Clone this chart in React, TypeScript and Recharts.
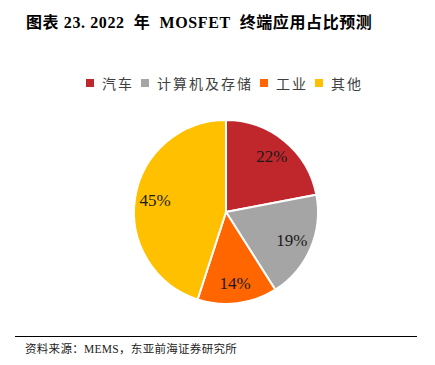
import React from 'react';
import { PieChart, Pie, Cell } from 'recharts';

const categories = ['汽车', '计算机及存储', '工业', '其他'];
const shares = [22, 19, 14, 45];
const colors = ['#C0272D', '#A5A5A5', '#FF6600', '#FFC000'];

const chartData = categories.map((name, i) => ({ name, value: shares[i] }));

const RADIAN = Math.PI / 180;

const renderLabel = ({ cx, cy, midAngle, outerRadius, value }: any) => {
  const r = outerRadius * 0.78;
  const x = cx + r * Math.cos(-midAngle * RADIAN);
  const y = cy + r * Math.sin(-midAngle * RADIAN);
  return (
    <text
      x={x}
      y={y}
      fill="#1a1a1a"
      fontSize={17}
      fontFamily="'Liberation Serif', serif"
      textAnchor="middle"
      dominantBaseline="central"
    >
      {`${value}%`}
    </text>
  );
};

export default function App() {
  return (
    <div style={{ position: 'absolute', left: 0, top: 0, width: 435, height: 365, background: '#fff', fontFamily: "'Liberation Serif', 'Noto Sans CJK SC', serif" }}>
      <div style={{ position: 'absolute', left: 26, top: 9, fontSize: 16, fontWeight: 'bold', color: '#000', whiteSpace: 'pre', letterSpacing: 0.6 }}>
        {'图表 23. 2022  年  MOSFET  终端应用占比预测'}
      </div>
      {/* legend */}
      <div style={{ position: 'absolute', left: 86, top: 73, display: 'flex', alignItems: 'center', fontSize: 14, color: '#404040', letterSpacing: 2, fontFamily: "'Noto Sans CJK SC', sans-serif", whiteSpace: 'nowrap' }}>
        {chartData.map((d, i) => (
          <span key={d.name} style={{ display: 'flex', alignItems: 'center', marginRight: 7 }}>
            <span style={{ width: 8, height: 8, background: colors[i], display: 'inline-block', marginRight: 8 }} />
            {d.name}
          </span>
        ))}
      </div>
      <PieChart width={435} height={365} margin={{ top: 0, right: 0, bottom: 0, left: 0 }} style={{ position: 'absolute', left: 0, top: 0 }}>
        <Pie
          data={chartData}
          dataKey="value"
          cx={226}
          cy={212}
          outerRadius={92}
          startAngle={90}
          endAngle={-270}
          stroke="#fff"
          strokeWidth={2}
          label={renderLabel}
          labelLine={false}
          isAnimationActive={false}
        >
          {chartData.map((d, i) => (
            <Cell key={d.name} fill={colors[i]} />
          ))}
        </Pie>
      </PieChart>
      <div style={{ position: 'absolute', left: 15, top: 336, width: 402, height: 0, borderTop: '1.5px solid #000' }} />
      <div style={{ position: 'absolute', left: 25, top: 340, fontSize: 11.5, color: '#222', whiteSpace: 'nowrap', letterSpacing: 0.3 }}>
        资料来源：MEMS，东亚前海证券研究所
      </div>
    </div>
  );
}
